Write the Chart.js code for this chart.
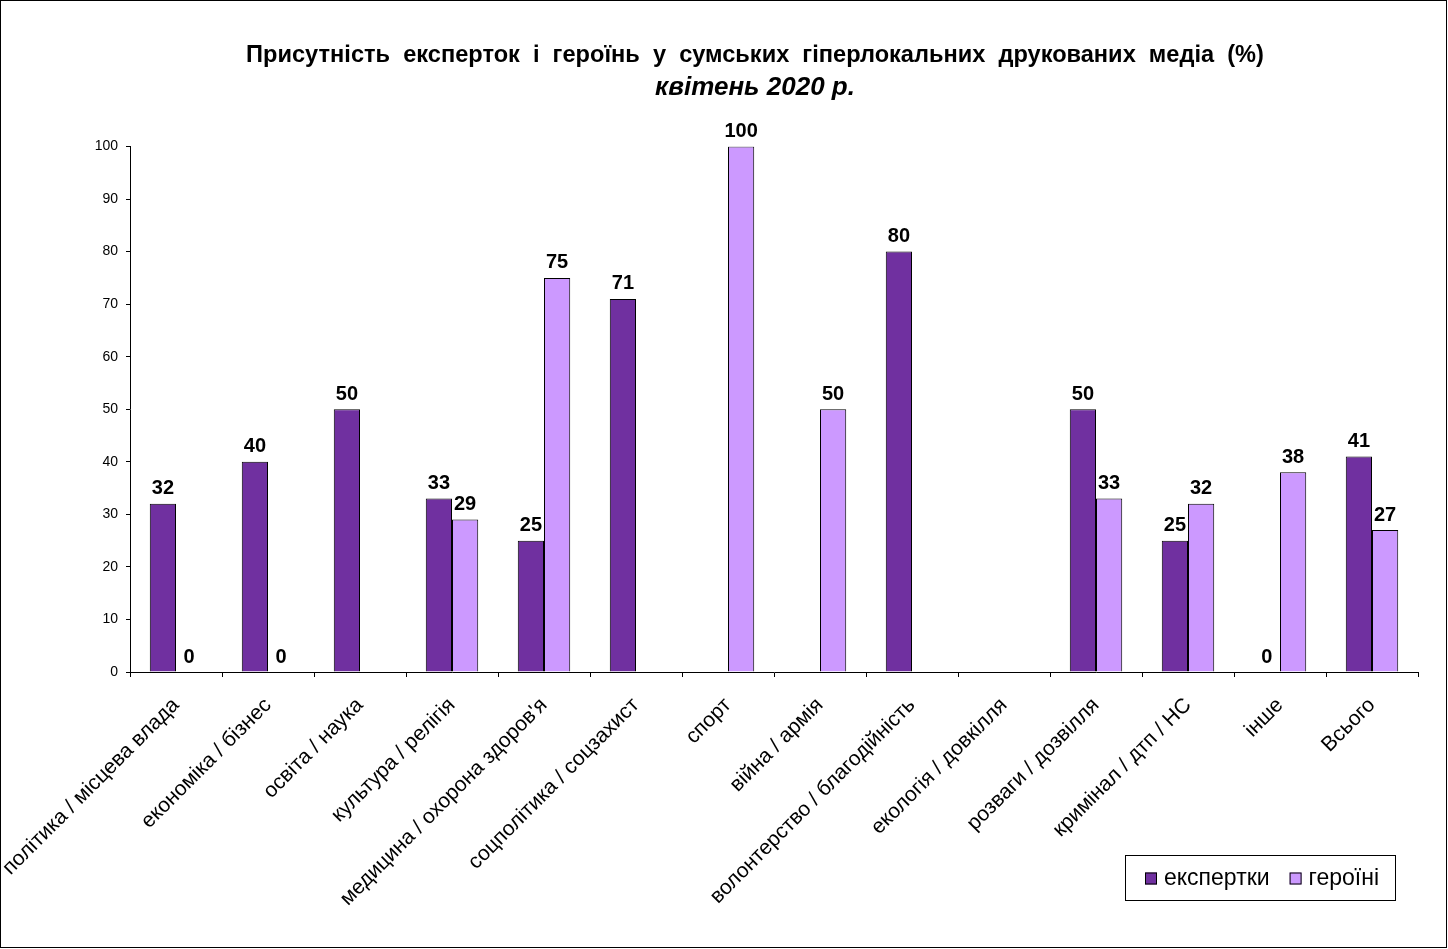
<!DOCTYPE html>
<html>
<head>
<meta charset="utf-8">
<script src="https://cdn.jsdelivr.net/npm/chart.js@4/dist/chart.umd.min.js"></script>
<style>
  html, body { margin: 0; padding: 0; background: #fff; }
  #wrap { width: 1448px; height: 949px; position: relative; }
</style>
</head>
<body>
<div id="wrap"><canvas id="mediaChart"></canvas></div>
<script>
// категорії та значення (%)
const categories = [
    'політика / місцева влада', 'економіка / бізнес', 'освіта / наука', 'культура / релігія',
    "медицина / охорона здоров'я", 'соцполітика / соцзахист', 'спорт', 'війна / армія',
    'волонтерство / благодійність', 'екологія / довкілля', 'розваги / дозвілля',
    'кримінал / дтп / НС', 'інше', 'Всього'
];
const expertky = [32, 40, 50, 33, 25, 71, null, null, 80, null, 50, 25, 0, 41];
const heroiny  = [0, 0, null, 29, 75, null, 100, 50, null, null, 33, 32, 38, 27];
const yTicks = [0, 10, 20, 30, 40, 50, 60, 70, 80, 90, 100];

const FONT = '"Liberation Sans", Arial, sans-serif';
const DARK = '#7030A0';
const LIGHT = '#CC99FF';

// підписи значень над стовпцями
const valueLabels = {
    id: 'valueLabels',
    afterDatasetsDraw(chart) {
        const ctx = chart.ctx;
        ctx.save();
        ctx.font = 'bold 20px ' + FONT;
        ctx.fillStyle = '#000';
        ctx.textAlign = 'center';
        ctx.textBaseline = 'bottom';
        chart.data.datasets.forEach((ds, i) => {
            const meta = chart.getDatasetMeta(i);
            meta.data.forEach((bar, j) => {
                const v = ds.data[j];
                if (v === null || v === undefined) return;
                ctx.fillText(String(v), bar.x, bar.y - 5);
            });
        });
        ctx.restore();
    }
};

// легенда в рамці + рамка навколо діаграми
const boxLegend = {
    id: 'boxLegend',
    afterDraw(chart) {
        const ctx = chart.ctx;
        ctx.save();
        ctx.strokeStyle = '#000';
        ctx.lineWidth = 1;
        ctx.strokeRect(0.5, 0.5, chart.width - 2, chart.height - 2);

        const bx = 1125, by = 855, bw = 270, bh = 45;
        ctx.strokeRect(bx + 0.5, by + 0.5, bw, bh);
        ctx.font = '23px ' + FONT;
        ctx.textBaseline = 'middle';
        ctx.textAlign = 'left';
        let x = bx + 20;
        const cy = by + bh / 2 + 1;
        chart.data.datasets.forEach(ds => {
            ctx.fillStyle = ds.backgroundColor;
            ctx.fillRect(x, cy - 6, 12, 12);
            ctx.strokeRect(x + 0.5, cy - 5.5, 11, 11);
            ctx.fillStyle = '#000';
            ctx.fillText(ds.label, x + 19, cy);
            x += 19 + ctx.measureText(ds.label).width + 20;
        });
        ctx.restore();
    }
};

new Chart(document.getElementById('mediaChart'), {
    type: 'bar',
    data: {
        labels: categories,
        datasets: [
            { label: 'експертки', data: expertky, backgroundColor: DARK, borderColor: '#000', borderWidth: 1,
              categoryPercentage: 0.57, barPercentage: 1.0 },
            { label: 'героїні', data: heroiny, backgroundColor: LIGHT, borderColor: '#000', borderWidth: 1,
              categoryPercentage: 0.57, barPercentage: 1.0 }
        ]
    },
    options: {
        responsive: true,
        maintainAspectRatio: false,
        animation: false,
        layout: { padding: { left: 92, right: 30, top: 0, bottom: 0 } },
        plugins: {
            legend: { display: false },
            tooltip: { enabled: false },
            title: {
                display: true,
                text: 'Присутність  експерток  і  героїнь  у  сумських  гіперлокальних  друкованих  медіа  (%)',
                color: '#000',
                font: { family: FONT, size: 23.6, weight: 'bold' },
                padding: { top: 41, bottom: 2 }
            },
            subtitle: {
                display: true,
                text: 'квітень 2020 р.',
                color: '#000',
                font: { family: FONT, size: 26, weight: 'bold', style: 'italic' },
                padding: { top: 1, bottom: 43 }
            }
        },
        scales: {
            x: {
                grid: { display: true, drawOnChartArea: false, drawTicks: true, tickLength: 5, color: '#000', offset: true },
                border: { display: true, color: '#000', width: 1 },
                ticks: {
                    autoSkip: false, minRotation: 45, maxRotation: 45, color: '#000', padding: 16,
                    font: { family: FONT, size: 21 }
                },
                afterFit(scale) {
                    scale.height = 277;
                    scale.paddingLeft = 0;
                    scale.paddingRight = 0;
                }
            },
            y: {
                min: 0, max: 100,
                afterBuildTicks(scale) { scale.ticks = yTicks.map(v => ({ value: v })); },
                grid: { display: true, drawOnChartArea: false, drawTicks: true, tickLength: 4, color: '#000' },
                border: { display: true, color: '#000', width: 1 },
                ticks: { color: '#000', padding: 8, font: { family: FONT, size: 14 } },
                afterFit(scale) {
                    scale.width = 38;
                    scale.paddingTop = 0;
                    scale.paddingBottom = 0;
                }
            }
        }
    },
    plugins: [valueLabels, boxLegend]
});
</script>
</body>
</html>
